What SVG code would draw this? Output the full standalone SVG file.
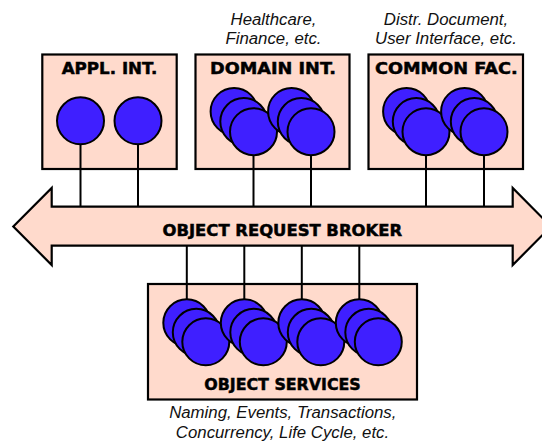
<svg xmlns="http://www.w3.org/2000/svg" width="542" height="444" viewBox="0 0 542 444">
<defs>
<style>
.box{fill:#ffdacc;stroke:#000;stroke-width:2.2}
.obj{fill:#3f1fff;stroke:#000;stroke-width:2}
.title{font-family:"DejaVu Sans","Liberation Sans",sans-serif;font-weight:bold;font-size:16.5px;fill:#000;stroke:#000;stroke-width:0.5;text-anchor:middle}
.note{font-family:"Liberation Sans",Arial,sans-serif;font-style:italic;font-size:16.8px;fill:#111;text-anchor:middle}
.conn{stroke:#000;stroke-width:2;fill:none}
</style>
</defs>
<rect width="542" height="444" fill="#fff"/>

<g id="appl-int">
<rect class="box" x="42.3" y="54.5" width="134.4" height="114.5"/>
<text class="title" x="109.5" y="73.5" textLength="95.6" lengthAdjust="spacingAndGlyphs">APPL. INT.</text>
</g>
<g id="domain-int">
<rect class="box" x="195.5" y="54.5" width="154" height="114.5"/>
<text class="title" x="273" y="73.5" textLength="126" lengthAdjust="spacingAndGlyphs">DOMAIN INT.</text>
</g>
<g id="common-fac">
<rect class="box" x="368.5" y="54.5" width="154.5" height="114.5"/>
<text class="title" x="446.3" y="73.5" textLength="142.7" lengthAdjust="spacingAndGlyphs">COMMON FAC.</text>
</g>
<g id="object-services">
<rect class="box" x="148" y="284" width="269" height="115.5"/>
<text class="title" x="282.5" y="390" textLength="156.5" lengthAdjust="spacingAndGlyphs">OBJECT SERVICES</text>
</g>

<g id="connectors">
<line class="conn" x1="80.5" y1="145" x2="80.5" y2="207"/>
<line class="conn" x1="138" y1="145" x2="138" y2="207"/>
<line class="conn" x1="253.5" y1="155" x2="253.5" y2="207"/>
<line class="conn" x1="311" y1="155" x2="311" y2="207"/>
<line class="conn" x1="426" y1="155" x2="426" y2="207"/>
<line class="conn" x1="484" y1="155" x2="484" y2="207"/>
<line class="conn" x1="186.8" y1="245.5" x2="186.8" y2="299.5"/>
<line class="conn" x1="244.3" y1="245.5" x2="244.3" y2="299.5"/>
<line class="conn" x1="301.8" y1="245.5" x2="301.8" y2="299.5"/>
<line class="conn" x1="359.3" y1="245.5" x2="359.3" y2="299.5"/>
</g>

<g id="orb">
<polygon points="13.3,226.5 51.7,188 51.7,206.7 512.7,206.7 512.7,188 551,226.5 512.7,265 512.7,245.7 51.7,245.7 51.7,265" fill="#ffdacc" stroke="#000" stroke-width="2.2" stroke-linejoin="miter"/>
<text class="title" x="282.3" y="235.7" textLength="239.5" lengthAdjust="spacingAndGlyphs">OBJECT REQUEST BROKER</text>
</g>

<g id="appl-objects">
<circle class="obj" cx="80.5" cy="120.8" r="23.5"/>
<circle class="obj" cx="138" cy="120.8" r="23.5"/>
</g>
<g id="domain-objects">
<circle class="obj" cx="234.1" cy="111.5" r="23.5"/>
<circle class="obj" cx="243.8" cy="121.6" r="23.5"/>
<circle class="obj" cx="253.5" cy="131.7" r="23.5"/>
<circle class="obj" cx="291.6" cy="111.5" r="23.5"/>
<circle class="obj" cx="301.3" cy="121.6" r="23.5"/>
<circle class="obj" cx="311" cy="131.7" r="23.5"/>
</g>
<g id="common-objects">
<circle class="obj" cx="406.6" cy="111.5" r="23.5"/>
<circle class="obj" cx="416.3" cy="121.6" r="23.5"/>
<circle class="obj" cx="426" cy="131.7" r="23.5"/>
<circle class="obj" cx="464.6" cy="111.5" r="23.5"/>
<circle class="obj" cx="474.3" cy="121.6" r="23.5"/>
<circle class="obj" cx="484" cy="131.7" r="23.5"/>
</g>
<g id="service-objects">
<circle class="obj" cx="186.8" cy="322.8" r="23.5"/>
<circle class="obj" cx="196.3" cy="332.3" r="23.5"/>
<circle class="obj" cx="205.8" cy="341.8" r="23.5"/>
<circle class="obj" cx="244.3" cy="322.8" r="23.5"/>
<circle class="obj" cx="253.8" cy="332.3" r="23.5"/>
<circle class="obj" cx="263.3" cy="341.8" r="23.5"/>
<circle class="obj" cx="301.8" cy="322.8" r="23.5"/>
<circle class="obj" cx="311.3" cy="332.3" r="23.5"/>
<circle class="obj" cx="320.8" cy="341.8" r="23.5"/>
<circle class="obj" cx="359.3" cy="322.8" r="23.5"/>
<circle class="obj" cx="368.8" cy="332.3" r="23.5"/>
<circle class="obj" cx="378.3" cy="341.8" r="23.5"/>
</g>

<g id="notes">
<text class="note" x="273.5" y="25">Healthcare,</text>
<text class="note" x="273.5" y="44.3">Finance, etc.</text>
<text class="note" x="446" y="25">Distr. Document,</text>
<text class="note" x="446" y="44.3">User Interface, etc.</text>
<text class="note" x="282.8" y="418.3">Naming, Events, Transactions,</text>
<text class="note" x="282.5" y="437.7">Concurrency, Life Cycle, etc.</text>
</g>
</svg>
